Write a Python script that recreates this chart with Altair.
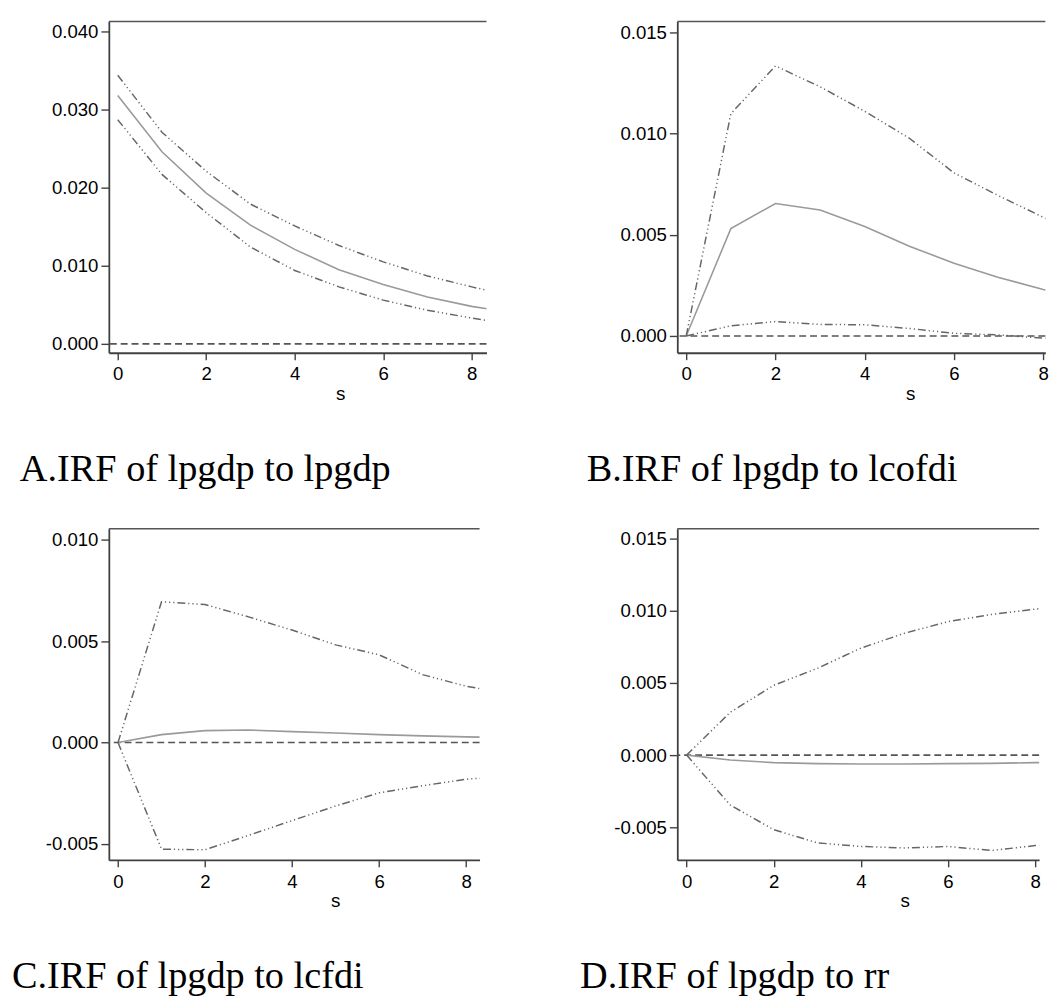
import altair as alt
import pandas as pd

steps = [0, 1, 2, 3, 4, 5, 6, 7, 8, 9]

a_irf = [0.0318, 0.0246, 0.0193, 0.0152, 0.0121, 0.0095, 0.0076, 0.0060, 0.0048, 0.0039]
a_up = [0.0344, 0.0271, 0.0221, 0.0179, 0.0151, 0.0126, 0.0105, 0.0087, 0.0073, 0.0060]
a_lo = [0.0287, 0.0217, 0.0168, 0.0124, 0.0094, 0.0073, 0.0056, 0.0043, 0.0033, 0.0024]

b_irf = [0, 0.0053, 0.00654, 0.00622, 0.0054, 0.00443, 0.00359, 0.00289, 0.00229, 0.0018]
b_up = [0, 0.01097, 0.01333, 0.0123, 0.01109, 0.00976, 0.00805, 0.00692, 0.00586, 0.0049]
b_lo = [0, 0.0005, 0.00071, 0.00057, 0.00055, 0.00037, 0.00013, 0.00005, -0.00011, -0.0002]

c_irf = [0, 0.00039, 0.00059, 0.00062, 0.00054, 0.00047, 0.00039, 0.00033, 0.00028, 0.00024]
c_up = [0, 0.00695, 0.00681, 0.0062, 0.00555, 0.00482, 0.00433, 0.00335, 0.00278, 0.0024]
c_lo = [0, -0.00526, -0.00529, -0.00458, -0.00385, -0.00313, -0.00248, -0.00213, -0.00181, -0.00165]

d_irf = [0, -0.00034, -0.00052, -0.00059, -0.00062, -0.00062, -0.00059, -0.00057, -0.00052, -0.0005]
d_up = [0, 0.00296, 0.00483, 0.006, 0.0074, 0.00843, 0.00923, 0.00973, 0.0101, 0.0104]
d_lo = [0, -0.00345, -0.00516, -0.00607, -0.00632, -0.00642, -0.00632, -0.0066, -0.00626, -0.006]

titles = ["A.IRF of lpgdp to lpgdp", "B.IRF of lpgdp to lcofdi",
          "C.IRF of lpgdp to lcfdi", "D.IRF of lpgdp to rr"]
x_ticks = [0, 2, 4, 6, 8]
a_yticks = [0, 0.01, 0.02, 0.03, 0.04]
b_yticks = [0, 0.005, 0.010, 0.015]
c_yticks = [-0.005, 0, 0.005, 0.010]
d_yticks = [-0.005, 0, 0.005, 0.010, 0.015]

AX = "#404040"
LABEL_FONT = "Liberation Sans"
H = 335
PAD = {"left": 0, "top": 7, "right": 0, "bottom": 0}


def panel(irf, up, lo, title, ydom, yticks, xdom, width, extent, title_dx, s_x):
    rows = []
    for name, vals in (("irf", irf), ("upper", up), ("lower", lo)):
        for s, v in zip(steps, vals):
            rows.append({"s": s, "value": v, "series": name})
    df = pd.DataFrame(rows)
    zero = pd.DataFrame({"value": [0.0]})

    x = alt.X("s:Q", scale=alt.Scale(domain=xdom, nice=False, zero=False),
              axis=alt.Axis(values=x_ticks, title="s", titleX=s_x, titleY=47,
                            titleBaseline="alphabetic", titleFont=LABEL_FONT,
                            titleFontSize=19, titleFontWeight="normal", titleColor="black",
                            labelFont=LABEL_FONT, labelFontSize=18.8, labelColor="black",
                            tickSize=7, labelPadding=5.5, tickColor=AX, tickWidth=1.4,
                            domainColor=AX, domainWidth=1.8, grid=False, format="d"))
    y = alt.Y("value:Q", scale=alt.Scale(domain=ydom, nice=False, zero=False),
              axis=alt.Axis(values=yticks, title=None, grid=False,
                            labelExpr="replace(format(datum.value, '.3f'), '\u2212', '-')",
                            labelFont=LABEL_FONT, labelFontSize=18.8, labelColor="black",
                            tickSize=8, labelPadding=3, tickColor=AX, tickWidth=1.4,
                            domainColor=AX, domainWidth=1.8,
                            minExtent=extent, maxExtent=extent))

    base = alt.Chart(df)
    ci_dash = [8, 3, 1.2, 3, 1.2, 3, 1.2, 3]
    up_line = base.transform_filter(alt.datum.series == "upper").mark_line(
        color="#666666", strokeWidth=1.5, strokeDash=ci_dash, clip=True).encode(x=x, y=y)
    lo_line = base.transform_filter(alt.datum.series == "lower").mark_line(
        color="#666666", strokeWidth=1.5, strokeDash=ci_dash, clip=True).encode(x=x, y=y)
    mid_line = base.transform_filter(alt.datum.series == "irf").mark_line(
        color="#9a9a9a", strokeWidth=1.6, clip=True).encode(x=x, y=y)
    zero_line = alt.Chart(zero).mark_rule(
        color="#555555", strokeWidth=1.6, strokeDash=[7, 4]).encode(y=y)
    top_border = alt.Chart(zero).mark_rule(color="#555555", strokeWidth=1.6).encode(
        x=alt.value(0), x2=alt.value(width), y=alt.value(0))

    return alt.layer(zero_line, mid_line, up_line, lo_line, top_border).properties(
        width=width, height=H,
        title=alt.TitleParams(title, orient="bottom", anchor="start", frame="group",
                              dx=title_dx, offset=79, baseline="alphabetic",
                              font="Liberation Serif", fontSize=38.7,
                              fontWeight="normal", color="black"))


pa = panel(a_irf, a_up, a_lo, titles[0], [-0.00114, 0.04127], a_yticks,
           [-0.201, 8.335], 382, 95, -90, 234)
pb = panel(b_irf, b_up, b_lo, titles[1], [-0.00083, 0.01552], b_yticks,
           [-0.2, 8.047], 372.3, 191.7, -91.7, 235.6)
pc = panel(c_irf, c_up, c_lo, titles[2], [-0.00579, 0.01055], c_yticks,
           [-0.211, 8.31], 375, 102, -98, 229)
pd_ = panel(d_irf, d_up, d_lo, titles[3], [-0.00725, 0.01566], d_yticks,
            [-0.214, 8.09], 366, 198.3, -98.3, 230)

chart = alt.vconcat(
    alt.hconcat(pa, pb, spacing=0),
    alt.hconcat(pc, pd_, spacing=0),
    spacing=39,
    padding=PAD,
).configure(background="white", padding=PAD).configure_view(stroke=None)

chart.save("out.html", embed_options={"renderer": "svg", "actions": False})
